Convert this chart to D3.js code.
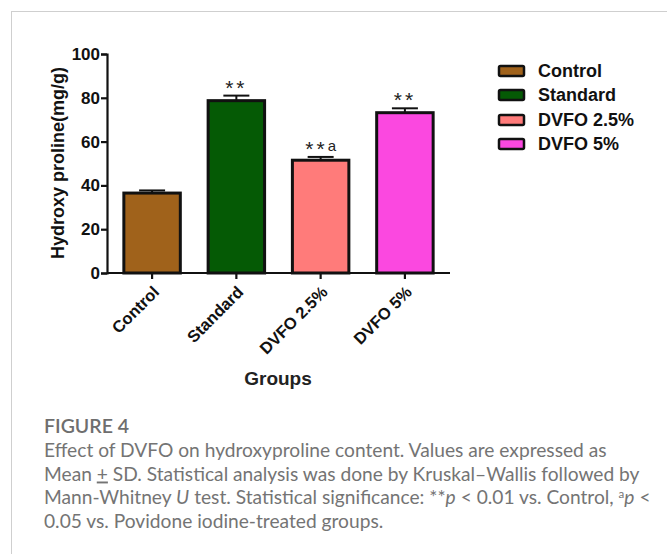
<!DOCTYPE html>
<html>
<head>
<meta charset="utf-8">
<script src="https://cdn.jsdelivr.net/npm/d3@7"></script>
<style>
  html, body { margin: 0; padding: 0; background: #fff; }
  svg { display: block; }
</style>
</head>
<body>
<svg id="chart" width="667" height="554"></svg>
<script>
// Hydroxyproline content per treatment group
const groups = ["Control", "Standard", "DVFO 2.5%", "DVFO 5%"];
const means = [36.5, 78.7, 51.5, 73.2];
const sds = [1.2, 2.3, 1.5, 2.0];
const marks = ["", "**", "**a", "**"];
const colors = ["#a0621b", "#055a05", "#ff7b7a", "#fb48e0"];
const yTicks = [0, 20, 40, 60, 80, 100];

const svg = d3.select("#chart");
const chartFont = "'Liberation Sans', Arial, sans-serif";

// outer panel frame (top and left rules)
svg.append("line").attr("x1", 11).attr("x2", 667).attr("y1", 11.5).attr("y2", 11.5)
  .attr("stroke", "#cfcfcf").attr("stroke-width", 1);
svg.append("line").attr("x1", 11.5).attr("x2", 11.5).attr("y1", 11).attr("y2", 554)
  .attr("stroke", "#cfcfcf").attr("stroke-width", 1);

const x = d3.scaleBand().domain(groups).range([107, 450])
  .paddingInner(0.33).paddingOuter(0.2);
const y = d3.scaleLinear().domain([0, 100]).range([273, 54]);

const g = svg.append("g");

// bars
g.selectAll("rect.bar").data(groups).join("rect")
  .attr("class", "bar")
  .attr("x", d => x(d))
  .attr("width", x.bandwidth())
  .attr("y", (d, i) => y(means[i]))
  .attr("height", (d, i) => y(0) - y(means[i]))
  .attr("fill", (d, i) => colors[i])
  .attr("stroke", "#111")
  .attr("stroke-width", 3);

// error bars (mean + SD)
const eb = g.selectAll("g.err").data(groups).join("g").attr("class", "err");
eb.append("line")
  .attr("x1", d => x(d) + x.bandwidth() / 2)
  .attr("x2", d => x(d) + x.bandwidth() / 2)
  .attr("y1", (d, i) => y(means[i]))
  .attr("y2", (d, i) => y(means[i] + sds[i]))
  .attr("stroke", "#111").attr("stroke-width", 2);
eb.append("line")
  .attr("x1", d => x(d) + x.bandwidth() / 2 - 13)
  .attr("x2", d => x(d) + x.bandwidth() / 2 + 13)
  .attr("y1", (d, i) => y(means[i] + sds[i]))
  .attr("y2", (d, i) => y(means[i] + sds[i]))
  .attr("stroke", "#111").attr("stroke-width", 2);

// significance marks
g.selectAll("text.sig").data(groups).join("text")
  .attr("class", "sig")
  .attr("x", d => x(d) + x.bandwidth() / 2)
  .attr("y", (d, i) => y(means[i] + sds[i]) - 1)
  .attr("text-anchor", "middle")
  .attr("font-family", chartFont)
  .attr("font-size", 21)
  .attr("letter-spacing", 3)
  .attr("fill", "#222")
  .each(function (d, i) {
    const t = d3.select(this);
    const stars = marks[i].replace("a", "");
    t.append("tspan").text(stars);
    if (marks[i].includes("a")) {
      t.append("tspan").attr("font-size", 15).attr("dy", -5).attr("letter-spacing", 0).text("a");
    }
  });

// y axis
const yAxis = g.append("g").attr("transform", "translate(107,0)")
  .call(d3.axisLeft(y).tickValues(yTicks).tickSize(6).tickPadding(1));
yAxis.select(".domain").attr("stroke", "#111").attr("stroke-width", 2.2);
yAxis.selectAll(".tick line").attr("stroke", "#111").attr("stroke-width", 2.2);
yAxis.selectAll(".tick text")
  .attr("font-family", chartFont)
  .attr("font-size", 17).attr("font-weight", "bold").attr("fill", "#111");

// x axis
const xAxis = g.append("g").attr("transform", "translate(0,273)")
  .call(d3.axisBottom(x).tickSize(6).tickSizeOuter(0).tickPadding(4));
xAxis.select(".domain").attr("stroke", "#111").attr("stroke-width", 2.2)
  .attr("d", "M107,0H450");
xAxis.selectAll(".tick line").attr("stroke", "#111").attr("stroke-width", 2.2);
xAxis.selectAll(".tick text")
  .attr("font-family", chartFont)
  .attr("font-size", 16.5).attr("font-weight", "bold").attr("fill", "#111")
  .attr("text-anchor", "end")
  .attr("x", 0).attr("y", 0).attr("dy", "0.35em")
  .attr("transform", "translate(4,16) rotate(-45)");

// axis titles
svg.append("text")
  .attr("transform", "translate(64,163) rotate(-90)")
  .attr("text-anchor", "middle")
  .attr("font-family", chartFont)
  .attr("font-size", 18).attr("font-weight", "bold").attr("fill", "#111")
  .text("Hydroxy proline(mg/g)");
svg.append("text")
  .attr("x", 278).attr("y", 385)
  .attr("text-anchor", "middle")
  .attr("font-family", chartFont)
  .attr("font-size", 19).attr("font-weight", "bold").attr("fill", "#222")
  .text("Groups");

// legend
const leg = svg.append("g").attr("transform", "translate(499,0)");
const rowY = [71, 95, 120, 144];
const items = leg.selectAll("g").data(groups).join("g")
  .attr("transform", (d, i) => `translate(0,${rowY[i]})`);
items.append("rect")
  .attr("x", 0).attr("y", -5).attr("width", 25).attr("height", 10)
  .attr("rx", 1.5)
  .attr("fill", (d, i) => colors[i])
  .attr("stroke", "#111").attr("stroke-width", 2.5);
items.append("text")
  .attr("x", 39).attr("y", 0).attr("dy", "0.36em")
  .attr("font-family", chartFont)
  .attr("font-size", 18).attr("font-weight", "bold").attr("fill", "#111")
  .text(d => d);

// caption
const capFont = "Lato, 'Open Sans', sans-serif";
const capX = 44;
svg.append("text")
  .attr("x", capX).attr("y", 433)
  .attr("font-family", capFont).attr("font-size", 19.5).attr("font-weight", 600)
  .attr("fill", "#6e6e6e")
  .text("FIGURE 4");

const cap = svg.append("text")
  .attr("font-family", capFont).attr("font-size", 16)
  .attr("fill", "#747474");
const l1 = cap.append("tspan").attr("x", capX).attr("y", 457);
l1.text("Effect of DVFO on hydroxyproline content. Values are expressed as");
const l2 = cap.append("tspan").attr("x", capX).attr("y", 480.5);
l2.append("tspan").text("Mean ");
l2.append("tspan").attr("text-decoration", "underline").text("+");
l2.append("tspan").text(" SD. Statistical analysis was done by Kruskal\u2013Wallis followed by");
const l3 = cap.append("tspan").attr("x", capX).attr("y", 504);
l3.append("tspan").text("Mann-Whitney ");
l3.append("tspan").attr("font-style", "italic").text("U");
l3.append("tspan").text(" test. Statistical significance: **");
l3.append("tspan").attr("font-style", "italic").text("p");
l3.append("tspan").text(" < 0.01 vs. Control, ");
l3.append("tspan").attr("class", "sup").attr("dy", -6).text("a");
l3.append("tspan").attr("font-style", "italic").attr("dy", 6).text("p");
l3.append("tspan").text(" <");
const l4 = cap.append("tspan").attr("x", capX).attr("y", 527.5);
l4.text("0.05 vs. Povidone iodine-treated groups.");

// size the caption so its widest line spans the text column
const w2 = d3.sum(l2.selectAll("tspan").nodes(), n => n.getComputedTextLength());
const capSize = 16 * 596 / w2;
cap.attr("font-size", capSize);
cap.selectAll("tspan.sup").attr("font-size", capSize * 0.6);
</script>
</body>
</html>
